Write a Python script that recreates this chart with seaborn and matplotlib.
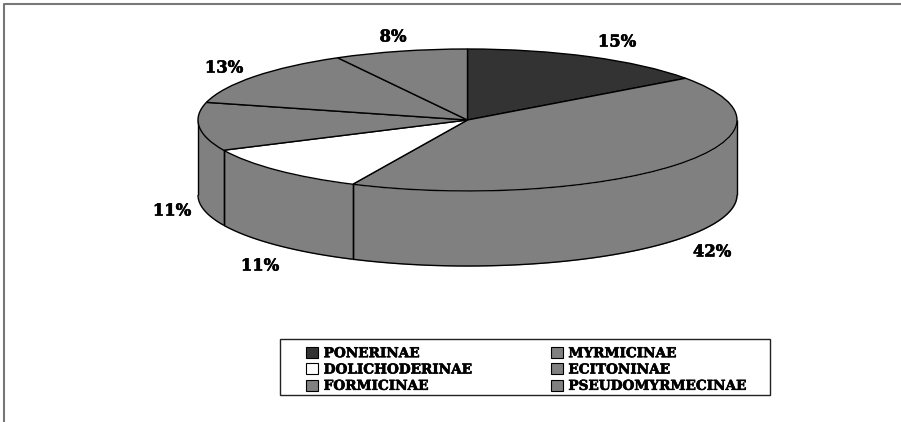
import numpy as np
import matplotlib
matplotlib.use("Agg")
import matplotlib.pyplot as plt
import matplotlib.patheffects as pe
from matplotlib.patches import Patch, Rectangle
import seaborn as sns

subfamilies = ["PONERINAE", "MYRMICINAE", "DOLICHODERINAE", "ECITONINAE", "FORMICINAE", "PSEUDOMYRMECINAE"]
shares = [15, 42, 11, 11, 13, 8]
percent_labels = ["15%", "42%", "11%", "11%", "13%", "8%"]
colours = ["#333333", "#808080", "#ffffff", "#808080", "#808080", "#808080"]

W, H = 901, 422
CX, CY, RX, RY, DEPTH = 467.5, 120, 269.5, 71, 75

sns.set_theme(style="white")
plt.rcParams["font.family"] = ["DejaVu Serif"]
plt.rcParams["text.color"] = "black"

fig = plt.figure(figsize=(W / 100, H / 100), dpi=100, facecolor="white")
ax = fig.add_axes([0, 0, 1, 1])
heavy = [pe.withStroke(linewidth=0.45, foreground="black")]


def px(x, y):
    """Pixel position on the page to unit-pie data coordinates."""
    return (x - CX) / RX, (CY - y) / RY


# Top face: a unit pie, flattened into an ellipse by the free aspect ratio.
wedges, _ = ax.pie(shares, colors=colours, startangle=90, counterclock=False, radius=1,
                   wedgeprops=dict(edgecolor="black", linewidth=1.0))
for wedge in wedges:
    wedge.set_zorder(3)
ax.set_aspect("auto")
ax.set_xlim(px(0, 0)[0], px(W, 0)[0])
ax.set_ylim(px(0, H)[1], px(0, 0)[1])

# Side wall: the visible lower half of the rim, dropped by the extrusion depth.
drop = DEPTH / RY
edges = 90 - np.cumsum([0] + shares) / sum(shares) * 360
for start, stop, colour in zip(edges[:-1], edges[1:], colours):
    a, b = max(stop, -180), min(start, 0)
    if b <= a:
        continue
    t = np.radians(np.linspace(a, b, 80))
    fill = "#808080" if colour == "#ffffff" else colour
    ax.fill_between(np.cos(t), np.sin(t), np.sin(t) - drop, color=fill, lw=0, zorder=1)
    ax.plot(np.cos(t), np.sin(t) - drop, color="black", lw=1.0, zorder=2, solid_capstyle="butt")
    for v in (a, b):
        if -180 < v < 0:
            r = np.radians(v)
            ax.plot([np.cos(r)] * 2, [np.sin(r), np.sin(r) - drop], color="black", lw=1.0, zorder=2)
for side in (-1, 1):
    ax.plot([side, side], [0, -drop], color="black", lw=1.0, zorder=2, solid_capstyle="butt")

# Percentage labels sit outside the rim.
label_spots = [(617, 42), (712, 252), (172, 211), (260, 266), (224, 68), (393, 37)]
for text, (x, y) in zip(percent_labels, label_spots):
    ax.text(*px(x, y), text, ha="center", va="center", fontsize=11.8, fontweight="bold",
            color="black", zorder=5, path_effects=heavy)

# Legend frame, with the two columns of entries inset from its left edge.
ax.add_patch(Rectangle((280 / W, 1 - 395 / H), 490 / W, 56 / H, transform=fig.transFigure,
                       facecolor="white", edgecolor="#222222", linewidth=1.0, zorder=5))
order = [0, 2, 4, 1, 3, 5]
handles = [Patch(facecolor=colours[i], edgecolor="black", linewidth=0.8, label=subfamilies[i]) for i in order]
leg = ax.legend(handles=handles, ncol=2, loc="center left", mode="expand",
                bbox_to_anchor=(306 / W, 1 - 397.5 / H, 441 / W, 56 / H), bbox_transform=fig.transFigure,
                prop=dict(size=9.8, weight="bold"), handlelength=0.88, handleheight=0.88,
                handletextpad=0.42, labelspacing=0.17, columnspacing=1.0, borderpad=0,
                borderaxespad=0, frameon=False)
leg.set_zorder(6)
for label in leg.get_texts():
    label.set_path_effects(heavy)

# Page rule along the top and left.
ax.plot(*zip(px(3.5, H), px(3.5, 4), px(W, 4)), color="#777777", lw=1.5, zorder=7, clip_on=False)

fig.savefig("out.png", dpi=100, facecolor="white")
